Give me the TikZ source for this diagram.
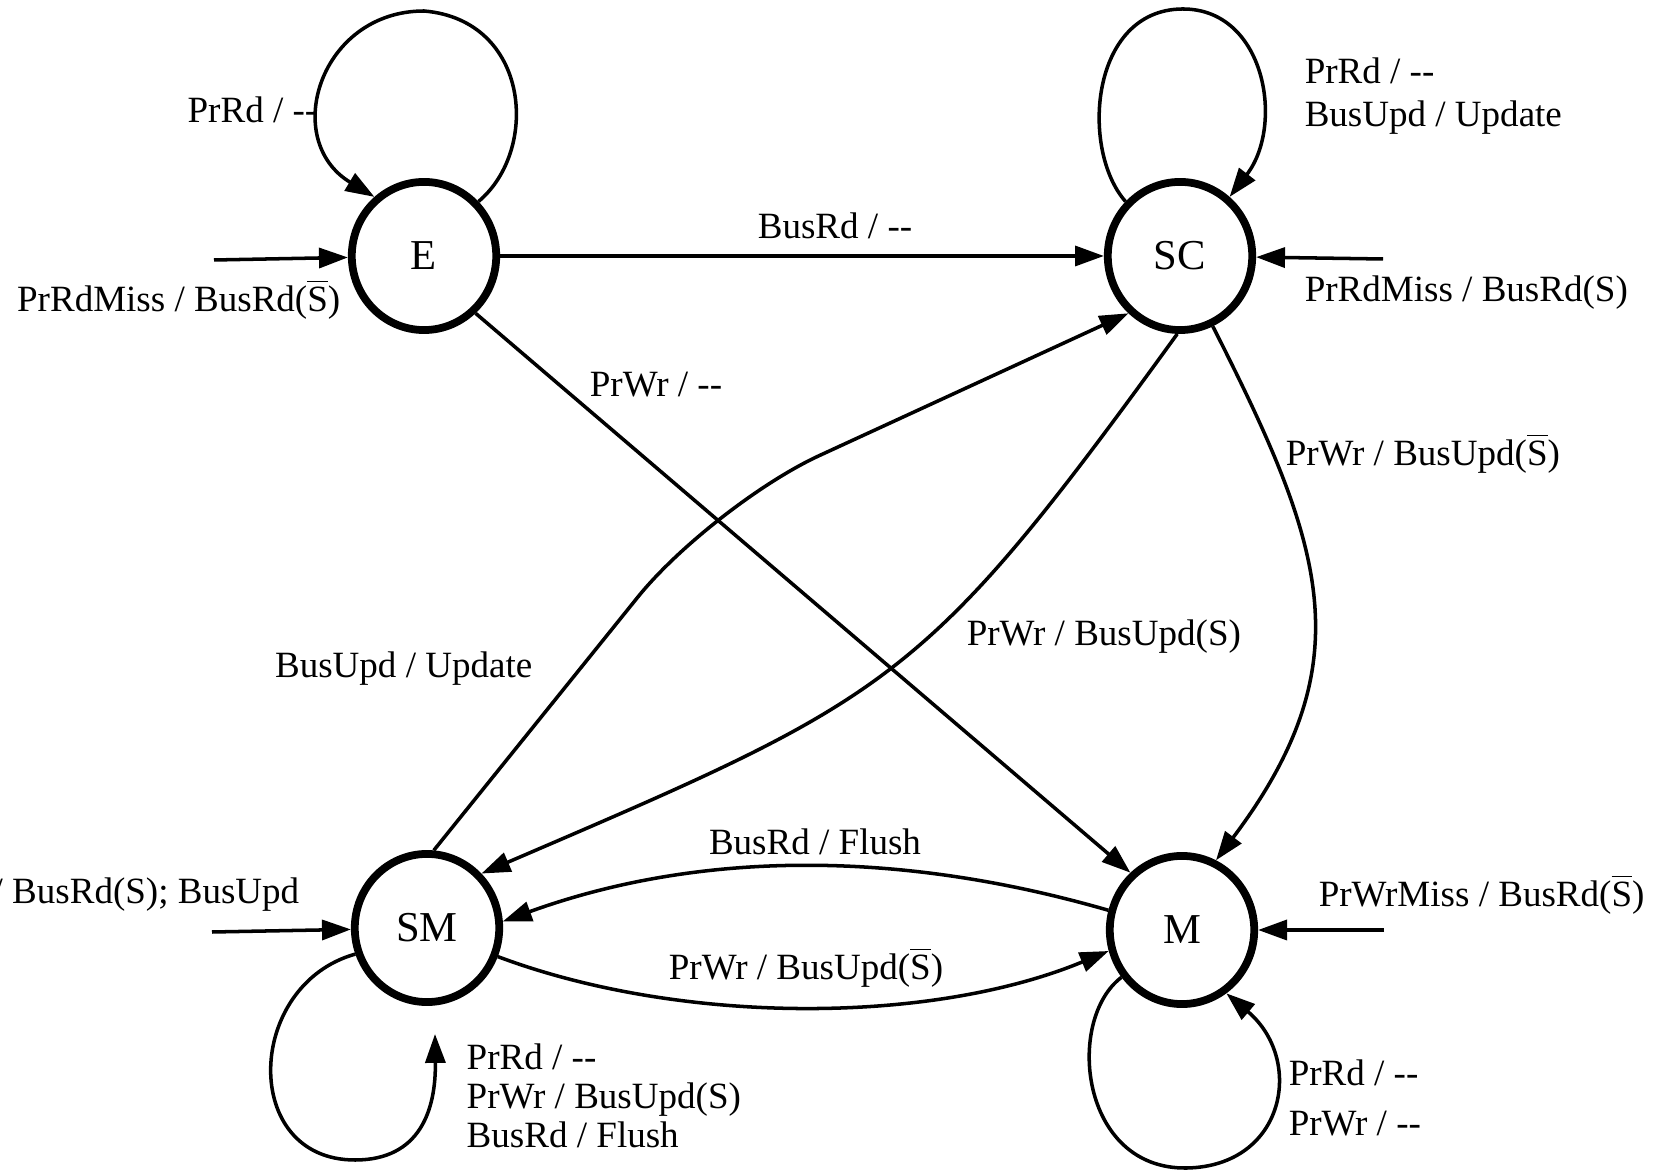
\documentclass[tikz,border=0pt]{standalone}
\usepackage{fontspec}
\setmainfont{Liberation Serif}[Ligatures=TeXOff]
\usetikzlibrary{arrows.meta,shapes.geometric}
\newcommand{\Sbar}{$\overline{\hbox{S}}$}

\begin{document}
\begin{tikzpicture}[x=0.27pt,y=-0.27pt,
  cstate/.style={draw, ellipse, line width=2.1pt, minimum width=39pt, minimum height=40pt, inner sep=0pt, font=\fontsize{11.5}{13}\selectfont},
  trans/.style={line width=0.95pt, -{Triangle[length=7.8pt,width=5.4pt]}},
  lbl/.style={inner sep=0pt, align=left, font=\fontsize{10}{10.6}\selectfont}]
\useasboundingbox (0,0) rectangle (1662,1171);

% states
\node[cstate] (E) at (424,256) {E};
\node[cstate] (SC) at (1180,256) {SC};
\node[cstate] (SM) at (427,928) {SM};
\node[cstate] (M) at (1182,930) {M};

% free ends
\coordinate (inE) at (214,260);
\coordinate (inSC) at (1383,259);
\coordinate (inSM) at (212,932);
\coordinate (inM) at (1384,930);
\coordinate (smtip) at (435,1034);

% entry arrows
\draw[trans] (inE) -- (E);
\draw[trans] (inSC) -- (SC);
\draw[trans] (inSM) -- (SM);
\draw[trans] (inM) -- (M);

% self loops
\draw[trans] (E.45) .. controls (540,150) and (530,20) .. (424,11) .. controls (320,11) and (280,140) .. (E.130);
\draw[trans] (SC.135) .. controls (1080,150) and (1090,10) .. (1182,9) .. controls (1265,8) and (1285,125) .. (SC.50);
\draw[trans] (SM.200) .. controls (245,985) and (240,1160) .. (355,1160) .. controls (420,1160) and (436,1110) .. (smtip);
\draw[trans] (M.218) .. controls (1065,1020) and (1080,1170) .. (1187,1168) .. controls (1285,1166) and (1305,1060) .. (M.-55);

% transitions
\draw[trans] (E) -- (SC);
\draw[trans] (E.-48) -- (M.132);
\draw[trans, rounded corners=32pt] (SM.85) -- (712,505) -- (SC.228);
\draw[trans] (SC.268) .. controls (923,685) and (895,696) .. (SM.45);
\draw[trans] (SC.-65) .. controls (1323,544) and (1366,661) .. (M.64);
\draw[trans] (M.165) .. controls (900,850) and (700,850) .. (SM.5);
\draw[trans] (SM.-22) .. controls (680,1025) and (930,1025) .. (M.196);

% labels
\node[lbl, anchor=east] (lEloop) at (318,110) {PrRd / --};
\node[lbl, anchor=east] (lEin) at (341,299) {PrRdMiss / BusRd(\Sbar)};
\node[lbl] (lESC) at (835,226) {BusRd / --};
\node[lbl, anchor=west] (lSCloop) at (1304,96) {PrRd / --\\[1.2pt]BusUpd / Update};
\node[lbl, anchor=west] (lSCin) at (1304,293) {PrRdMiss / BusRd(S)};
\node[lbl] (lEM) at (656,385) {PrWr / --};
\node[lbl, anchor=west] (lSCM) at (1285,453) {PrWr / BusUpd(\Sbar)};
\node[lbl, anchor=west] (lSCSM) at (966,637) {PrWr / BusUpd(S)};
\node[lbl, anchor=east] (lSMSC) at (533,669) {BusUpd / Update};
\node[lbl] (lMSM) at (815,842) {BusRd / Flush};
\node[lbl] (lSMM) at (806,967) {PrWr / BusUpd(\Sbar)};
\node[lbl, anchor=east] (lSMin) at (300,895) {/ BusRd(S); BusUpd};
\node[lbl, anchor=west] (lSMloop) at (466,1096) {PrRd / --\\PrWr / BusUpd(S)\\BusRd / Flush};
\node[lbl, anchor=west] (lMin) at (1318,894) {PrWrMiss / BusRd(\Sbar)};
\node[lbl, anchor=west] (lMloop) at (1288,1098) {PrRd / --\\[3pt]PrWr / --};
\end{tikzpicture}
\end{document}
